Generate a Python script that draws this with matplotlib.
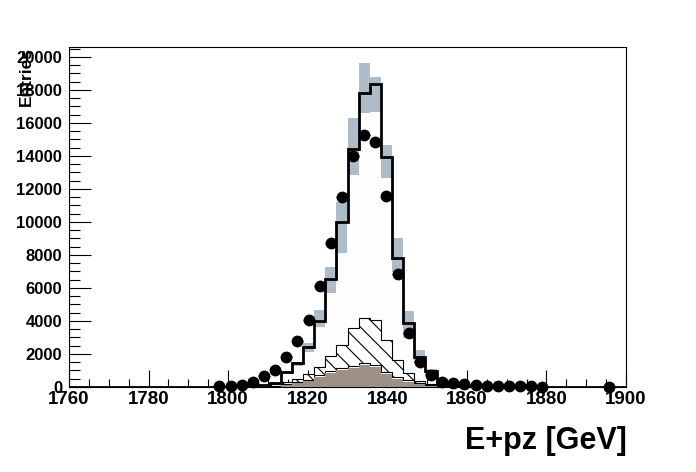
import numpy as np
import matplotlib
matplotlib.use('Agg')
import matplotlib.pyplot as plt
from matplotlib.ticker import MultipleLocator

plt.rcParams['font.family'] = ['Liberation Sans', 'DejaVu Sans']
plt.rcParams['font.weight'] = 'bold'
plt.rcParams['hatch.linewidth'] = 0.8

# binning: 50 bins from 1760 to 1900 GeV
x_lo, x_hi, n_bins = 1760, 1900, 50
edges = np.linspace(x_lo, x_hi, n_bins + 1)
centers = 0.5 * (edges[:-1] + edges[1:])
bin_w = edges[1] - edges[0]

# total MC (bins 16..35)
mc_first = 16
mc_total = [40, 120, 250, 900, 1480, 2400, 4000, 6550, 10000, 14420,
            17800, 18350, 13950, 7840, 3860, 1840, 960, 220, 60, 20]

# MC uncertainty band (bins 18..33)
band_first = 18
band_lo = [220, 760, 1270, 2140, 3620, 5680, 8140, 12850, 16590, 16690,
           12690, 6990, 2950, 1440, 780, 130]
band_hi = [330, 940, 1530, 2690, 4670, 7290, 11230, 16280, 19650, 18800,
           14670, 9050, 4620, 2240, 1100, 330]

# stacked components, cumulative tops (bins 18..33)
stack_first = 18
brown_top = [0, 120, 220, 340, 600, 830, 1030, 1160, 1330, 1240,
             800, 480, 300, 170, 80, 20]
white_top = [80, 200, 320, 450, 720, 950, 1150, 1280, 1450, 1360,
             920, 600, 400, 250, 140, 40]
hatch_top = [160, 300, 480, 790, 1190, 1870, 2520, 3550, 4160, 4060,
             2820, 1640, 830, 340, 200, 60]

# data (bins 13..42, plus bin 48)
data_bins = list(range(13, 43)) + [48]
data_vals = [60, 70, 120, 320, 670, 1030, 1800, 2790, 4060, 6120,
             8710, 11530, 14020, 15270, 14830, 11580, 6850, 3250, 1500, 730,
             320, 220, 180, 120, 90, 70, 60, 50, 40, 30, 10]


def full(first, vals):
    h = np.zeros(n_bins)
    h[first:first + len(vals)] = vals
    return h


fig = plt.figure(figsize=(6.96, 4.72), dpi=100)
ax = fig.add_axes([69 / 696, 1 - 387 / 472, 557 / 696, 340 / 472])

ax.stairs(full(mc_first, mc_total), edges, fill=True, color='#fdfdfd', zorder=1)

ax.stairs(full(stack_first, hatch_top), edges, fill=True, facecolor='white',
          edgecolor='black', hatch='\\\\', linewidth=0.8, zorder=2)
ax.stairs(full(stack_first, white_top), edges, fill=True, facecolor='white',
          edgecolor='black', linewidth=0.8, zorder=3)
ax.stairs(full(stack_first, brown_top), edges, fill=True, color='#9d9087',
          linewidth=0, zorder=4)

lo = np.array(band_lo)
hi = np.array(band_hi)
ax.bar(centers[band_first:band_first + len(lo)], hi - lo, bottom=lo,
       width=bin_w, color='#aebcc8', linewidth=0, zorder=5)

ax.stairs(full(mc_first, mc_total), edges, color='black', linewidth=2.0, zorder=6)

ax.errorbar(centers[data_bins], data_vals, xerr=bin_w / 2, fmt='o', color='black',
            markersize=7.5, elinewidth=1, capsize=0, zorder=7, clip_on=False)

ax.set_xlim(x_lo, x_hi)
ax.set_ylim(0, 20600)
ax.set_xticks(range(1760, 1901, 20))
ax.xaxis.set_minor_locator(MultipleLocator(5))
ax.set_yticks(range(0, 20001, 2000))
ax.yaxis.set_minor_locator(MultipleLocator(500))

ax.tick_params(axis='x', which='major', direction='in', length=12, width=0.8,
               labelsize=13.5, pad=3)
ax.tick_params(axis='x', which='minor', direction='in', length=6, width=0.8)
ax.tick_params(axis='y', which='major', direction='in', length=16, width=0.8,
               labelsize=12, pad=5)
ax.tick_params(axis='y', which='minor', direction='in', length=8, width=0.8)
for lab in ax.get_xticklabels() + ax.get_yticklabels():
    lab.set_fontweight('bold')
for sp in ax.spines.values():
    sp.set_linewidth(0.8)

fig.text(26 / 696, 1 - 47 / 472, 'Entries', rotation=90, ha='center', va='top',
         fontsize=12.5, fontweight='bold')
fig.text(627 / 696, 1 - 456 / 472, 'E+pz [GeV]', ha='right', va='bottom',
         fontsize=22, fontweight='bold')

fig.savefig('out.png', dpi=100, facecolor='white')
